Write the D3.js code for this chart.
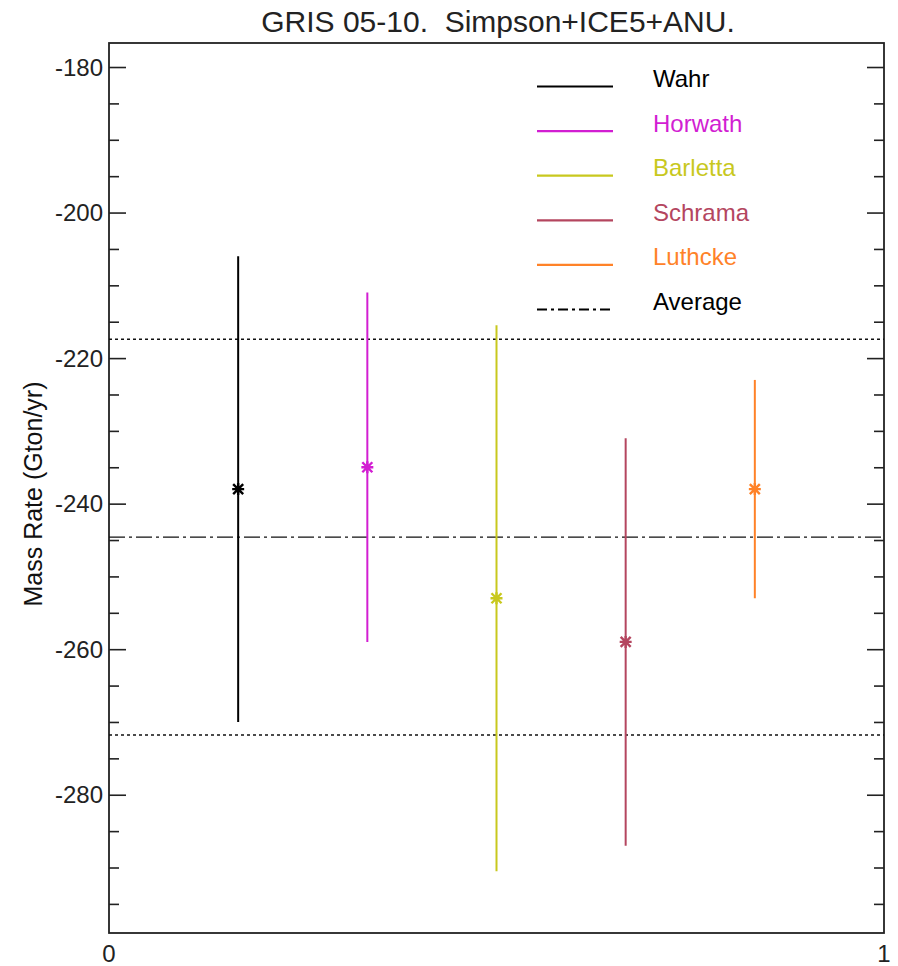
<!DOCTYPE html>
<html>
<head>
<meta charset="utf-8">
<script src="https://cdn.jsdelivr.net/npm/d3@7"></script>
<style>
  body { margin: 0; background: #fff; }
  svg { display: block; font-family: "Liberation Sans", Arial, sans-serif; }
</style>
</head>
<body>
<div id="chart"></div>
<script>
// Solutions and their estimates (Gton/yr)
const names = ["Wahr", "Horwath", "Barletta", "Schrama", "Luthcke"];
const colors = ["#000000", "#d21ed2", "#c8c81e", "#b4465f", "#ff8228"];
const xPos = [1 / 6, 2 / 6, 3 / 6, 4 / 6, 5 / 6];
const rates = [-238, -235, -253, -259, -238];
const errors = [32, 24, 37.5, 28, 15];
const average = -244.6;
const spread = 27.2;
const yMajorTicks = [-180, -200, -220, -240, -260, -280];
const xTickLabels = [0, 1];

const width = 898, height = 966;
const margin = { top: 43, right: 14, bottom: 33, left: 109 };
const innerW = width - margin.left - margin.right;
const innerH = height - margin.top - margin.bottom;

const svg = d3.select("#chart").append("svg")
  .attr("width", width).attr("height", height);

const x = d3.scaleLinear().domain([0, 1]).range([0, innerW]);
const y = d3.scaleLinear().domain([-299, -176.7]).range([innerH, 0]);

const plot = svg.append("g").attr("transform", `translate(${margin.left},${margin.top})`);

// Title (double space kept)
svg.append("text")
  .attr("x", 498).attr("y", 32)
  .attr("text-anchor", "middle").attr("font-size", 30)
  .attr("fill", "#222").style("white-space", "pre")
  .text("GRIS 05-10.  Simpson+ICE5+ANU.");

// Y axis label
svg.append("text")
  .attr("transform", `translate(42, 494) rotate(-90)`)
  .attr("text-anchor", "middle").attr("font-size", 25).attr("fill", "#111")
  .text("Mass Rate (Gton/yr)");

// Ticks on left and right (inward), majors every 20, minors every 5
const minorTicks = d3.range(-295, -176, 5).filter(v => v % 20 !== 0);
const leftMajor = d3.axisRight(y).tickValues(yMajorTicks).tickSize(17).tickFormat("");
const leftMinor = d3.axisRight(y).tickValues(minorTicks).tickSize(10).tickFormat("");
const rightMajor = d3.axisLeft(y).tickValues(yMajorTicks).tickSize(17).tickFormat("");
const rightMinor = d3.axisLeft(y).tickValues(minorTicks).tickSize(10).tickFormat("");

[leftMajor, leftMinor].forEach(a => plot.append("g").call(a));
[rightMajor, rightMinor].forEach(a => plot.append("g").attr("transform", `translate(${innerW},0)`).call(a));
plot.selectAll(".domain").remove();
plot.selectAll(".tick line").attr("stroke", "#222").attr("stroke-width", 1.6);

// Tick labels
plot.append("g").selectAll("text").data(yMajorTicks).join("text")
  .attr("x", -6).attr("y", d => y(d)).attr("dy", "0.36em")
  .attr("text-anchor", "end").attr("font-size", 24).attr("fill", "#222")
  .text(d => d);

plot.append("g").selectAll("text").data(xTickLabels).join("text")
  .attr("x", d => x(d)).attr("y", innerH + 29)
  .attr("text-anchor", "middle").attr("font-size", 24).attr("fill", "#222")
  .text(d => d);

// Frame
plot.append("rect")
  .attr("width", innerW).attr("height", innerH)
  .attr("fill", "none").attr("stroke", "#222").attr("stroke-width", 1.8);

// Average and spread lines
plot.append("line")
  .attr("x1", 0).attr("x2", innerW).attr("y1", y(average)).attr("y2", y(average))
  .attr("stroke", "#111").attr("stroke-width", 1.4).attr("stroke-dasharray", "16,4,3,4");
[average + spread, average - spread].forEach(v => {
  plot.append("line")
    .attr("x1", 0).attr("x2", innerW).attr("y1", y(v)).attr("y2", y(v))
    .attr("stroke", "#111").attr("stroke-width", 1.4).attr("stroke-dasharray", "3,3");
});

// Error bars and star markers
const data = names.map((n, i) => ({ name: n, color: colors[i], x: xPos[i], v: rates[i], e: errors[i] }));

plot.append("g").selectAll("line").data(data).join("line")
  .attr("x1", d => x(d.x)).attr("x2", d => x(d.x))
  .attr("y1", d => y(d.v + d.e)).attr("y2", d => y(d.v - d.e))
  .attr("stroke", d => d.color).attr("stroke-width", 2);

const star = "M-6,0L6,0M0,-6L0,6M-5,-5L5,5M-5,5L5,-5";
plot.append("g").selectAll("path").data(data).join("path")
  .attr("transform", d => `translate(${x(d.x)},${y(d.v)})`)
  .attr("d", star).attr("fill", "none")
  .attr("stroke", d => d.color).attr("stroke-width", 2.4);

// Legend
const legendItems = data.map(d => ({ name: d.name, color: d.color, dash: null }))
  .concat([{ name: "Average", color: "#000", dash: "10,4,3,4" }]);
const legend = svg.append("g").attr("transform", "translate(537,86.5)");
const rowH = 44.6;
legend.selectAll("line").data(legendItems).join("line")
  .attr("x1", 0).attr("x2", 76)
  .attr("y1", (d, i) => i * rowH).attr("y2", (d, i) => i * rowH)
  .attr("stroke", d => d.color).attr("stroke-width", 2.2)
  .attr("stroke-dasharray", d => d.dash);
legend.selectAll("text").data(legendItems).join("text")
  .attr("x", 116).attr("y", (d, i) => i * rowH + 0.5)
  .attr("font-size", 24).attr("fill", d => d.color)
  .text(d => d.name);
</script>
</body>
</html>
